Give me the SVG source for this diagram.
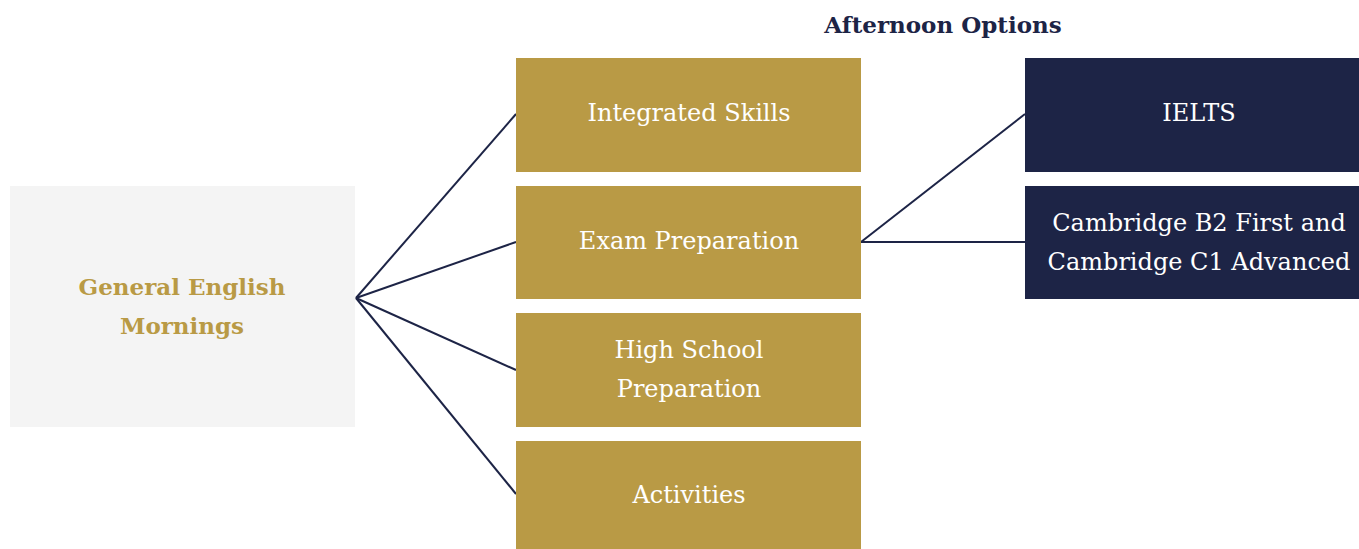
<svg xmlns="http://www.w3.org/2000/svg" width="1359" height="549" viewBox="0 0 1359 549">
<style>
.gold{fill:#B99A45}
.navy{fill:#1D2446}
.lt{font-family:"DejaVu Serif","Liberation Serif",serif;font-size:24px;fill:#FFFFFF;text-anchor:middle}
.main{font-family:"DejaVu Serif","Liberation Serif",serif;font-size:23px;font-weight:bold;fill:#B99A45;text-anchor:middle}
.hdr{font-family:"DejaVu Serif","Liberation Serif",serif;font-size:23px;font-weight:bold;fill:#1D2446;text-anchor:middle}
.conn line{stroke:#1D2446;stroke-width:2;fill:none}
</style>
<rect width="1359" height="549" fill="#FFFFFF"/>
<text class="hdr" x="943" y="33">Afternoon Options</text>
<g class="conn" id="connectors">
<line x1="356" y1="298" x2="516" y2="114"/>
<line x1="356" y1="298" x2="516" y2="242"/>
<line x1="356" y1="298" x2="516" y2="370"/>
<line x1="356" y1="298" x2="516" y2="494"/>
<line x1="861" y1="242" x2="1025" y2="114"/>
<line x1="861" y1="242" x2="1025" y2="242"/>
</g>
<g id="general-english">
<rect x="10" y="186" width="345" height="241" fill="#F4F4F4"/>
<text class="main" x="182" y="295">General English</text>
<text class="main" x="182" y="334">Mornings</text>
</g>
<g id="integrated-skills">
<rect class="gold" x="516" y="58" width="345" height="114"/>
<text class="lt" x="689" y="121">Integrated Skills</text>
</g>
<g id="exam-preparation">
<rect class="gold" x="516" y="186" width="345" height="113"/>
<text class="lt" x="689" y="249">Exam Preparation</text>
</g>
<g id="high-school">
<rect class="gold" x="516" y="313" width="345" height="114"/>
<text class="lt" x="689" y="358">High School</text>
<text class="lt" x="689" y="397">Preparation</text>
</g>
<g id="activities">
<rect class="gold" x="516" y="441" width="345" height="114"/>
<text class="lt" x="689" y="503">Activities</text>
</g>
<g id="ielts">
<rect class="navy" x="1025" y="58" width="340" height="114"/>
<text class="lt" x="1199" y="121">IELTS</text>
</g>
<g id="cambridge">
<rect class="navy" x="1025" y="186" width="340" height="113"/>
<text class="lt" x="1199" y="231">Cambridge B2 First and</text>
<text class="lt" x="1199" y="270">Cambridge C1 Advanced</text>
</g>
</svg>
